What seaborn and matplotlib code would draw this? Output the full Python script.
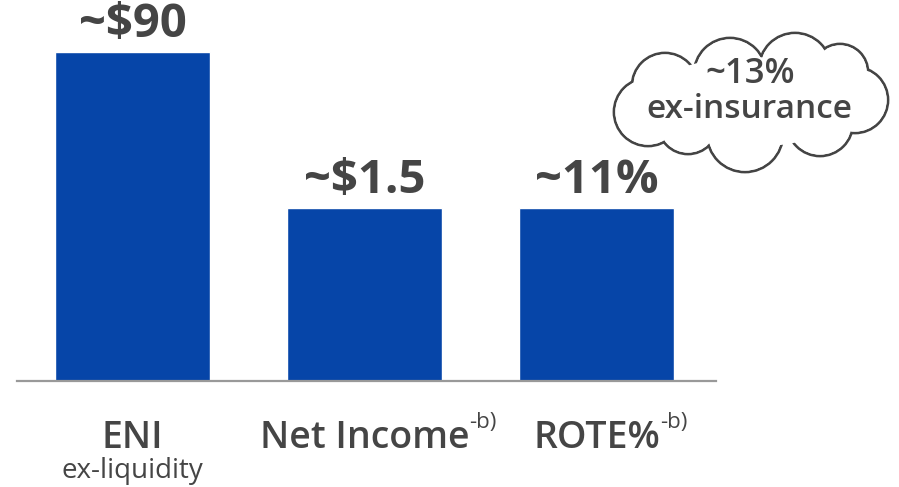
import matplotlib
matplotlib.use("Agg")
import matplotlib.pyplot as plt
from matplotlib.patches import Circle, Ellipse
import seaborn as sns
import pandas as pd

# ---- data ----
categories = ["ENI", "Net Income", "ROTE%"]
bar_heights = [90, 47.2, 47.2]          # illustrative bar heights as drawn
value_labels = ["~$90", "~$1.5", "~11%"]
sub_labels = ["ex-liquidity", "", ""]
superscripts = ["", "-b)", "-b)"]
cloud_lines = ["~13%", "ex-insurance"]

sns.set_theme(style="white")
plt.rcParams["font.family"] = ["Open Sans", "DejaVu Sans"]

BAR = "#0645a8"
TXT = "#454545"

fig = plt.figure(figsize=(8.99, 4.87), dpi=100)
ax = fig.add_axes([17 / 899, 106 / 487, 699 / 899, 329 / 487])

df = pd.DataFrame({"cat": categories, "h": bar_heights})
sns.barplot(data=df, x="cat", y="h", color=BAR, saturation=1, width=0.668, ax=ax)

ax.set_xlim(-0.498, 2.515)
ax.set_ylim(0, 90)
ax.set_xlabel("")
ax.set_ylabel("")
ax.set_xticks([])
ax.set_yticks([])
for s in ["top", "right", "left"]:
    ax.spines[s].set_visible(False)
ax.spines["bottom"].set_color("#999999")
ax.spines["bottom"].set_linewidth(1.6)

for i, p in enumerate(ax.patches):
    x = p.get_x() + p.get_width() / 2
    ax.annotate(value_labels[i], (x, p.get_height()), xytext=(0, 3),
                textcoords="offset points", ha="center", va="bottom",
                fontsize=34, fontweight="bold", color=TXT, clip_on=False)
    t = ax.annotate(categories[i], (x, 0), xytext=(0, -48),
                    textcoords="offset points", ha="center", va="baseline",
                    fontsize=27, fontweight="semibold", color=TXT,
                    annotation_clip=False)
    if superscripts[i]:
        ax.annotate(superscripts[i], xy=(1, 1), xycoords=t,
                    xytext=(0, 5), textcoords="offset points",
                    ha="left", va="top", fontsize=16, color=TXT)
    if sub_labels[i]:
        ax.annotate(sub_labels[i], (x, 0), xytext=(0, -70),
                    textcoords="offset points", ha="center", va="baseline",
                    fontsize=20, color=TXT, annotation_clip=False)

# ---- cloud callout in pixel coordinates ----
ov = fig.add_axes([0, 0, 1, 1], zorder=5)
ov.set_xlim(0, 899)
ov.set_ylim(487, 0)
ov.axis("off")
ov.patch.set_alpha(0)

bumps = [(665, 86, 33), (648, 112, 34), (688, 124, 30), (745, 134, 38),
         (820, 123, 33), (855, 100, 33), (840, 72, 28), (795, 69, 36),
         (730, 74, 36)]
lw = 2.0
for cx, cy, r in bumps:
    ov.add_patch(Circle((cx, cy), r, facecolor="white", edgecolor="#444444",
                        linewidth=lw, zorder=1))
for cx, cy, r in bumps:
    ov.add_patch(Circle((cx, cy), r - 1.3, facecolor="white", edgecolor="none",
                        zorder=2))
ov.add_patch(Ellipse((750, 102), 210, 90, facecolor="white", edgecolor="none",
                     zorder=2))
ov.text(750, 74, cloud_lines[0], ha="center", va="center", fontsize=25,
        fontweight="semibold", color=TXT, zorder=3)
ov.text(749, 110, cloud_lines[1], ha="center", va="center", fontsize=24,
        fontweight="semibold", color=TXT, zorder=3)

fig.savefig("out.png", dpi=100)
